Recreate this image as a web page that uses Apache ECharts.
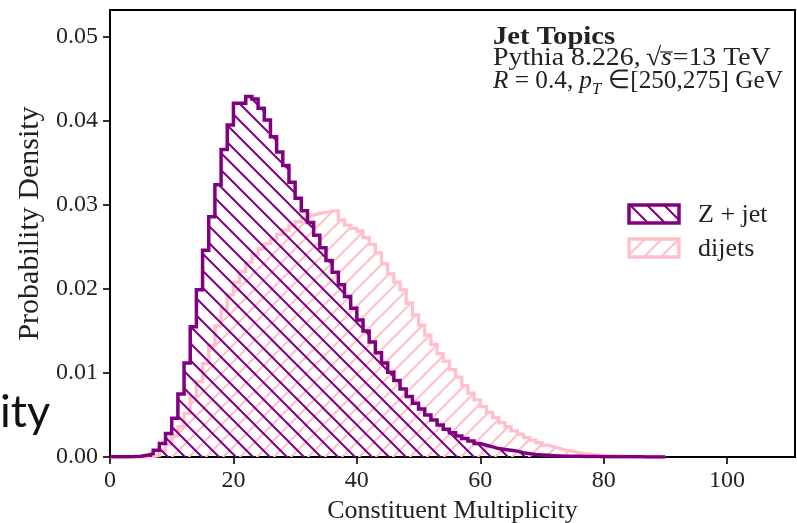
<!DOCTYPE html>
<html><head><meta charset="utf-8">
<script src="https://cdn.jsdelivr.net/npm/echarts@6/dist/echarts.min.js"></script>
<style>html,body{margin:0;padding:0;background:#fff}#c{width:797px;height:523px}</style>
</head><body><div id="c"></div>
<script>
// ---- data (bin edges start at 0, width 1) ----
const binEdgeStart = 0;
const binWidth = 1;
const zjetDensity = [
  0.00002,0.00002,0.00003,0.00005,0.0001,0.0002,0.0004,0.0008,0.0016,0.0028,
  0.0046,0.0075,0.0112,0.0155,0.0199,0.0246,0.0286,0.0324,0.0366,0.0395,
  0.0421,0.0421,0.0429,0.0426,0.0415,0.0401,0.0381,0.0363,0.0347,0.0327,
  0.0308,0.0293,0.0279,0.0264,0.0249,0.0234,0.0220,0.0205,0.0191,0.0177,
  0.0163,0.0150,0.0137,0.0124,0.0112,0.0101,0.0091,0.0081,0.0072,0.0064,
  0.0057,0.0050,0.0044,0.0038,0.0033,0.0029,0.0025,0.0022,0.0019,0.0016,
  0.0014,0.0012,0.0010,0.0009,0.0008,0.0007,0.0005,0.0004,0.0003,0.00025,
  0.0002,0.00016,0.00013,0.0001,0.00009,0.00008,0.00007,0.00006,0.00005,0.00004,
  0.00004,0.00003,0.00003,0.00002,0.00002,0.00002,0.00001,0.00001,0.00001,0.00001
];
const dijetDensity = [
  0,0,0,0,0.00001,0.00002,0.00005,0.0002,0.0007,0.0015,
  0.0025,0.0036,0.0052,0.0071,0.0090,0.0111,0.0133,0.0156,0.0176,0.0193,
  0.0208,0.0221,0.0232,0.0241,0.0248,0.0254,0.0259,0.0265,0.0270,0.0275,
  0.0280,0.0284,0.0288,0.0290,0.0291,0.0293,0.0293,0.0282,0.0276,0.0272,
  0.0269,0.0261,0.0253,0.0243,0.0230,0.0218,0.0208,0.0199,0.0183,0.0169,
  0.0157,0.0145,0.0134,0.0123,0.0114,0.0104,0.0095,0.0085,0.0076,0.0068,
  0.0060,0.0053,0.0047,0.0041,0.0036,0.0031,0.0027,0.0023,0.0020,0.0017,
  0.0014,0.0012,0.0010,0.0008,0.0007,0.0005,0.0004,0.0003,0.00025,0.0002,
  0.00015,0.00012,0.0001,0.00008,0.00006,0.00005,0.00004,0.00003,0.00002,0.00001
];
const seriesNames = ['Z + jet', 'dijets'];
const xTicks = [0, 20, 40, 60, 80, 100];
const yTicks = [0, 0.01, 0.02, 0.03, 0.04, 0.05];
const xRange = [0, 111];
const yRange = [0, 0.0532];

// ---- styling ----
const PURPLE = '#800080';
const PINK = '#ffc0cb';
const SERIF = 'Liberation Serif';

function hatch(color, dir, size, lw) {
  const c = document.createElement('canvas');
  c.width = size; c.height = size;
  const ctx = c.getContext('2d');
  ctx.strokeStyle = color; ctx.lineWidth = lw; ctx.lineCap = 'square';
  ctx.beginPath();
  for (let k = -1; k <= 1; k++) {
    if (dir === 'back') { ctx.moveTo(k * size - 2, -2); ctx.lineTo(k * size + size + 2, size + 2); }
    else { ctx.moveTo(k * size - 2, size + 2); ctx.lineTo(k * size + size + 2, -2); }
  }
  ctx.stroke();
  return c;
}
const zPattern = { image: hatch(PURPLE, 'back', 17, 2), repeat: 'repeat' };
const dPattern = { image: hatch(PINK, 'fwd', 17, 2), repeat: 'repeat' };

function toSteps(vals) {
  const pts = vals.map((v, i) => [binEdgeStart + i * binWidth, v]);
  pts.push([binEdgeStart + vals.length * binWidth, 0]);
  return pts;
}

const chart = echarts.init(document.getElementById('c'), null, { renderer: 'canvas' });
const txt = (x, y, text, font, opts) => Object.assign({
  type: 'text', x: x, y: y, z: 100,
  style: Object.assign({ text: text, font: font, fill: '#222', verticalAlign: 'bottom' }, opts || {})
});
const F = (s, pre) => (pre ? pre + ' ' : '') + s + 'px "' + SERIF + '"';

chart.setOption({
  animation: false,
  backgroundColor: '#fff',
  grid: { left: 110, right: 2, top: 10, bottom: 66, containLabel: false, outerBoundsMode: 'none',
    show: true, borderColor: '#000', borderWidth: 2, backgroundColor: 'transparent' },
  xAxis: {
    type: 'value', min: xRange[0], max: xRange[1],
    axisLine: { show: true, onZero: false, lineStyle: { color: '#000', width: 2 } },
    axisTick: { show: true, length: 7, customValues: xTicks, lineStyle: { color: '#000', width: 1.6 } },
    axisLabel: { customValues: xTicks, fontFamily: SERIF, fontSize: 24, color: '#222', margin: 12 },
    splitLine: { show: false },
    name: 'Constituent Multiplicity', nameLocation: 'middle', nameGap: 41,
    nameTextStyle: { fontFamily: SERIF, fontSize: 26, color: '#222' }
  },
  yAxis: {
    type: 'value', min: yRange[0], max: yRange[1],
    axisLine: { show: true, lineStyle: { color: '#000', width: 2 } },
    axisTick: { show: true, length: 7, customValues: yTicks, lineStyle: { color: '#000', width: 1.6 } },
    axisLabel: { customValues: yTicks, fontFamily: SERIF, fontSize: 24, color: '#222', margin: 12,
      formatter: v => v.toFixed(2) },
    splitLine: { show: false },
    name: 'Probability Density', nameLocation: 'middle', nameGap: 64, nameRotate: 90,
    nameTextStyle: { fontFamily: SERIF, fontSize: 30, color: '#222', padding: [0, 0, 0, 20] }
  },
  series: [
    { name: seriesNames[1], type: 'line', step: 'end', data: toSteps(dijetDensity), symbol: 'none',
      lineStyle: { color: PINK, width: 3.3, join: 'miter' }, areaStyle: { color: dPattern, opacity: 1 }, z: 2 },
    { name: seriesNames[0], type: 'line', step: 'end', data: toSteps(zjetDensity), symbol: 'none',
      lineStyle: { color: PURPLE, width: 3.5, join: 'miter' }, areaStyle: { color: zPattern, opacity: 1 }, z: 3 }
  ],
  graphic: [
    // legend
    { type: 'rect', z: 100, shape: { x: 629, y: 205, width: 50, height: 18 },
      style: { fill: zPattern, stroke: PURPLE, lineWidth: 3.5 } },
    { type: 'rect', z: 100, shape: { x: 629, y: 239, width: 50, height: 18 },
      style: { fill: dPattern, stroke: PINK, lineWidth: 3.3 } },
    txt(698, 228, seriesNames[0], F(26)),
    txt(698, 262, seriesNames[1], F(26)),
    // annotation
    { type: 'group', x: 493, y: 0, scaleX: 1.1, z: 100, children: [
      txt(0, 50, 'Jet Topics', F(26, 'bold'))
    ] },
    { type: 'group', x: 493, y: 0, scaleX: 1.07, z: 100, children: [
      txt(0, 71, 'Pythia 8.226,', F(26)),
      txt(143, 71, '\u221A', F(26)),
      { type: 'line', z: 100, shape: { x1: 156, y1: 52, x2: 168, y2: 52 }, style: { stroke: '#222', lineWidth: 1.2 } },
      txt(157, 71, 's', F(26, 'italic')),
      txt(168, 71, '=13 TeV', F(26))
    ] },
    { type: 'group', x: 493, y: 0, scaleX: 0.97, z: 100, children: [
      txt(0, 94, 'R', F(26, 'italic')),
      txt(16, 94, ' = 0.4, ', F(26)),
      txt(89, 94, 'p', F(26, 'italic')),
      txt(102, 98, 'T', F(17, 'italic')),
      txt(112, 94, ' \u2208[250,275] GeV', F(26))
    ] },
    // stray text from original screenshot
    { type: 'text', x: 0, y: 435, z: 100, style: { text: 'ity', font: '45px Lato', fill: '#111', verticalAlign: 'bottom' } }
  ]
});
</script></body></html>
